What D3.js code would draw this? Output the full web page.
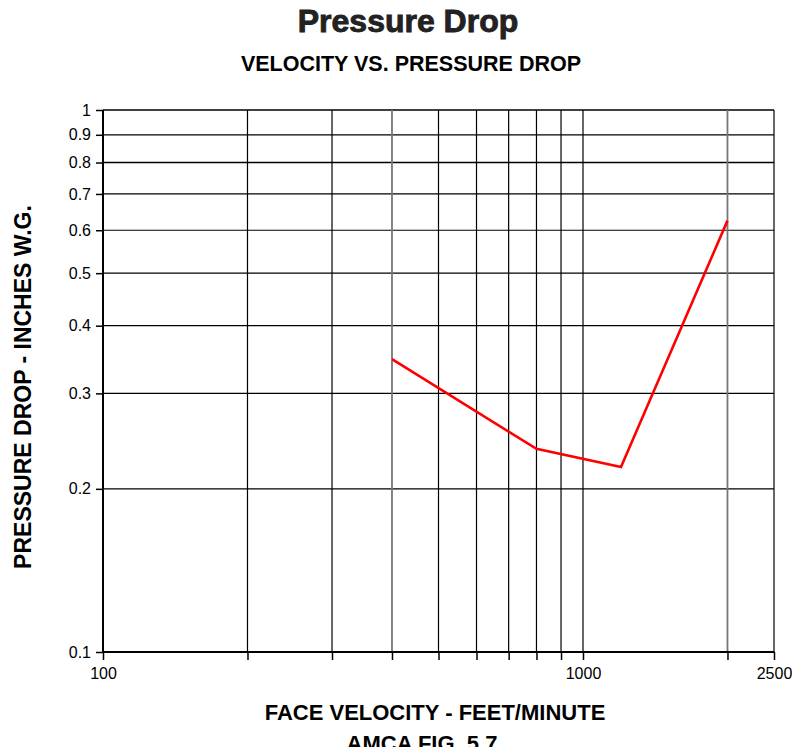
<!DOCTYPE html>
<html lang="en">
<head>
<meta charset="UTF-8">
<title>Pressure Drop</title>
<script src="https://d3js.org/d3.v7.min.js"></script>
<style>
body { margin: 0; background: #fff; }
text { font-family: "Liberation Sans", Arial, sans-serif; }
</style>
</head>
<body>
<div id="container"></div>
<script>
// data
const velocity = [400, 800, 1200, 2000];
const pressure = [0.347, 0.237, 0.2195, 0.625];

const xGrid = [200, 300, 400, 500, 600, 700, 800, 900, 1000, 2000, 2500];
const xLabels = [100, 1000, 2500];
const yTicks = [0.1, 0.2, 0.3, 0.4, 0.5, 0.6, 0.7, 0.8, 0.9, 1];
const grayLines = [400, 2000];

const width = 792, height = 747;
const plotL = 103, plotR = 774, plotT = 110, plotB = 652;

const svg = d3.select("#container").append("svg")
  .attr("width", width)
  .attr("height", height);

const x = d3.scaleLog().domain([100, 2500]).range([plotL, plotR]);
const y = d3.scaleLog().domain([0.1, 1]).range([plotB, plotT]);

// titles
svg.append("text")
  .attr("x", 408).attr("y", 32)
  .attr("text-anchor", "middle")
  .style("font-size", "32px").style("font-weight", "900")
  .style("fill", "#222").style("stroke", "#222").style("stroke-width", 0.9)
  .text("Pressure Drop");

svg.append("text")
  .attr("x", 411).attr("y", 71)
  .attr("text-anchor", "middle")
  .style("font-size", "21.5px").style("font-weight", "bold")
  .text("VELOCITY VS. PRESSURE DROP");

// grid
svg.append("g").selectAll("line")
  .data(yTicks.slice(1))
  .join("line")
  .attr("x1", plotL).attr("x2", plotR)
  .attr("y1", d => y(d)).attr("y2", d => y(d))
  .attr("stroke", "#000").attr("stroke-width", d => (d === 1 || d === 0.8) ? 1.6 : 1.2);

svg.append("g").selectAll("line")
  .data(xGrid)
  .join("line")
  .attr("x1", d => x(d)).attr("x2", d => x(d))
  .attr("y1", plotT).attr("y2", plotB)
  .attr("stroke", d => grayLines.includes(d) ? "#777" : "#000")
  .attr("stroke-width", d => grayLines.includes(d) ? 1.8 : 1.2);

// axes
const yAxis = d3.axisLeft(y)
  .tickValues(yTicks)
  .tickSize(7)
  .tickPadding(5)
  .tickFormat(d3.format("~g"));

svg.append("g")
  .attr("transform", `translate(${plotL},0)`)
  .call(yAxis)
  .call(g => g.select(".domain").attr("stroke-width", 2).attr("d", `M0,${plotB}V${plotT}`))
  .call(g => g.selectAll(".tick line").attr("stroke-width", 1.5))
  .call(g => g.selectAll(".tick text")
    .style("font-size", "16px").style("font-family", "Liberation Sans, Arial, sans-serif").attr("fill", "#000"));

const xAxis = d3.axisBottom(x)
  .tickValues([100].concat(xGrid))
  .tickSize(8)
  .tickPadding(8)
  .tickFormat(d => xLabels.includes(d) ? d : "");

svg.append("g")
  .attr("transform", `translate(0,${plotB})`)
  .call(xAxis)
  .call(g => g.select(".domain").attr("stroke-width", 2).attr("d", `M${plotL},0H${plotR}`))
  .call(g => g.selectAll(".tick line").attr("stroke-width", 1.5))
  .call(g => g.selectAll(".tick text")
    .style("font-size", "16px").style("font-family", "Liberation Sans, Arial, sans-serif").attr("fill", "#000"));

// data line
const line = d3.line()
  .x((d, i) => x(velocity[i]))
  .y(d => y(d));

svg.append("path")
  .datum(pressure)
  .attr("fill", "none")
  .attr("stroke", "#ff0000")
  .attr("stroke-width", 2.6)
  .attr("d", line);

// axis titles
svg.append("text")
  .attr("transform", "translate(31,387) rotate(-90)")
  .attr("text-anchor", "middle")
  .style("font-size", "23px").style("font-weight", "bold")
  .text("PRESSURE DROP - INCHES W.G.");

svg.append("text")
  .attr("x", 435).attr("y", 720)
  .attr("text-anchor", "middle")
  .style("font-size", "22px").style("font-weight", "bold")
  .text("FACE VELOCITY - FEET/MINUTE");

svg.append("text")
  .attr("x", 422).attr("y", 751)
  .attr("text-anchor", "middle")
  .style("font-size", "22px").style("font-weight", "bold")
  .text("AMCA FIG. 5.7");
</script>
</body>
</html>
